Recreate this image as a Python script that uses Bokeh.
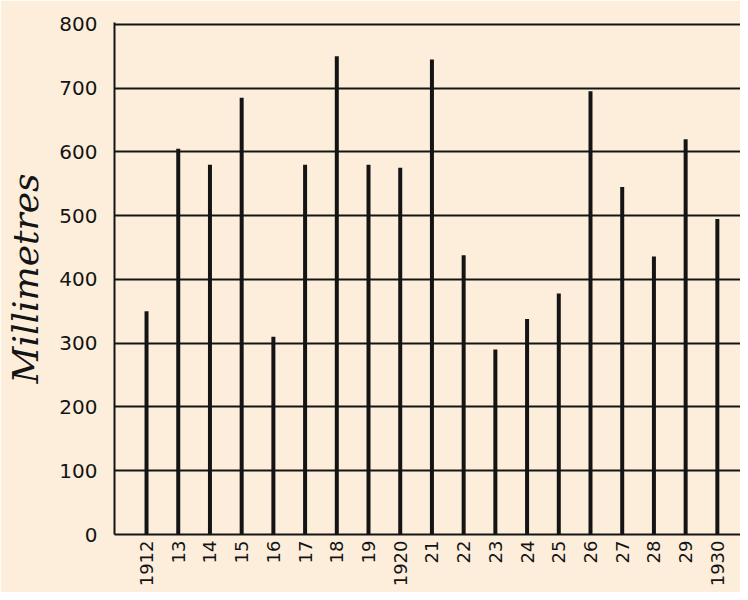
import math
from bokeh.plotting import figure
from bokeh.models import Range1d, FixedTicker
from bokeh.embed import file_html
from bokeh.resources import INLINE

years = list(range(1912, 1931))
rainfall_mm = [350, 605, 580, 685, 310, 580, 750, 580, 575, 745,
               438, 290, 338, 378, 695, 545, 436, 620, 495]
year_labels = ["1912", "13", "14", "15", "16", "17", "18", "19", "1920", "21",
               "22", "23", "24", "25", "26", "27", "28", "29", "1930"]
y_ticks = [0, 100, 200, 300, 400, 500, 600, 700, 800]

BG = "#FDEEDC"
INK = "#141414"

p = figure(width=740, height=592, output_backend="svg", toolbar_location=None,
           x_range=Range1d(1910.99, 1930.73), y_range=Range1d(0, 803),
           min_border_left=114, min_border_right=0, min_border_top=22,
           min_border_bottom=58)
p.background_fill_color = BG
p.border_fill_color = BG
p.outline_line_color = None

p.segment(x0=years, y0=[0] * len(years), x1=years, y1=rainfall_mm,
          line_width=4, line_color=INK, line_cap="butt")

# x axis
p.xaxis.ticker = FixedTicker(ticks=years)
p.xaxis.major_label_overrides = {y: lab for y, lab in zip(years, year_labels)}
p.xaxis.major_label_orientation = math.pi / 2
p.xaxis.major_tick_line_color = None
p.xaxis.minor_tick_line_color = None
p.xaxis.major_tick_out = 0
p.xaxis.major_tick_in = 0
p.xaxis.axis_line_color = INK
p.xaxis.axis_line_width = 2
p.xaxis.major_label_standoff = 6
p.xaxis.major_label_text_font = "DejaVu Sans"
p.xaxis.major_label_text_font_size = "18px"
p.xaxis.major_label_text_color = INK

# y axis
p.yaxis.ticker = FixedTicker(ticks=y_ticks)
p.yaxis.major_tick_line_color = None
p.yaxis.minor_tick_line_color = None
p.yaxis.major_tick_out = 0
p.yaxis.major_tick_in = 0
p.yaxis.axis_line_color = INK
p.yaxis.axis_line_width = 2
p.yaxis.major_label_standoff = 17
p.yaxis.major_label_text_font = "DejaVu Sans"
p.yaxis.major_label_text_font_size = "20px"
p.yaxis.major_label_text_color = INK
p.yaxis.axis_label = "Millimetres"
p.yaxis.axis_label_text_font = "DejaVu Serif"
p.yaxis.axis_label_text_font_style = "italic"
p.yaxis.axis_label_text_font_size = "36px"
p.yaxis.axis_label_text_color = INK
p.yaxis.axis_label_standoff = 10

# grid
p.xgrid.grid_line_color = None
p.ygrid.ticker = FixedTicker(ticks=y_ticks)
p.ygrid.grid_line_color = INK
p.ygrid.grid_line_width = 2

open("out.html", "w").write(file_html(p, INLINE))
